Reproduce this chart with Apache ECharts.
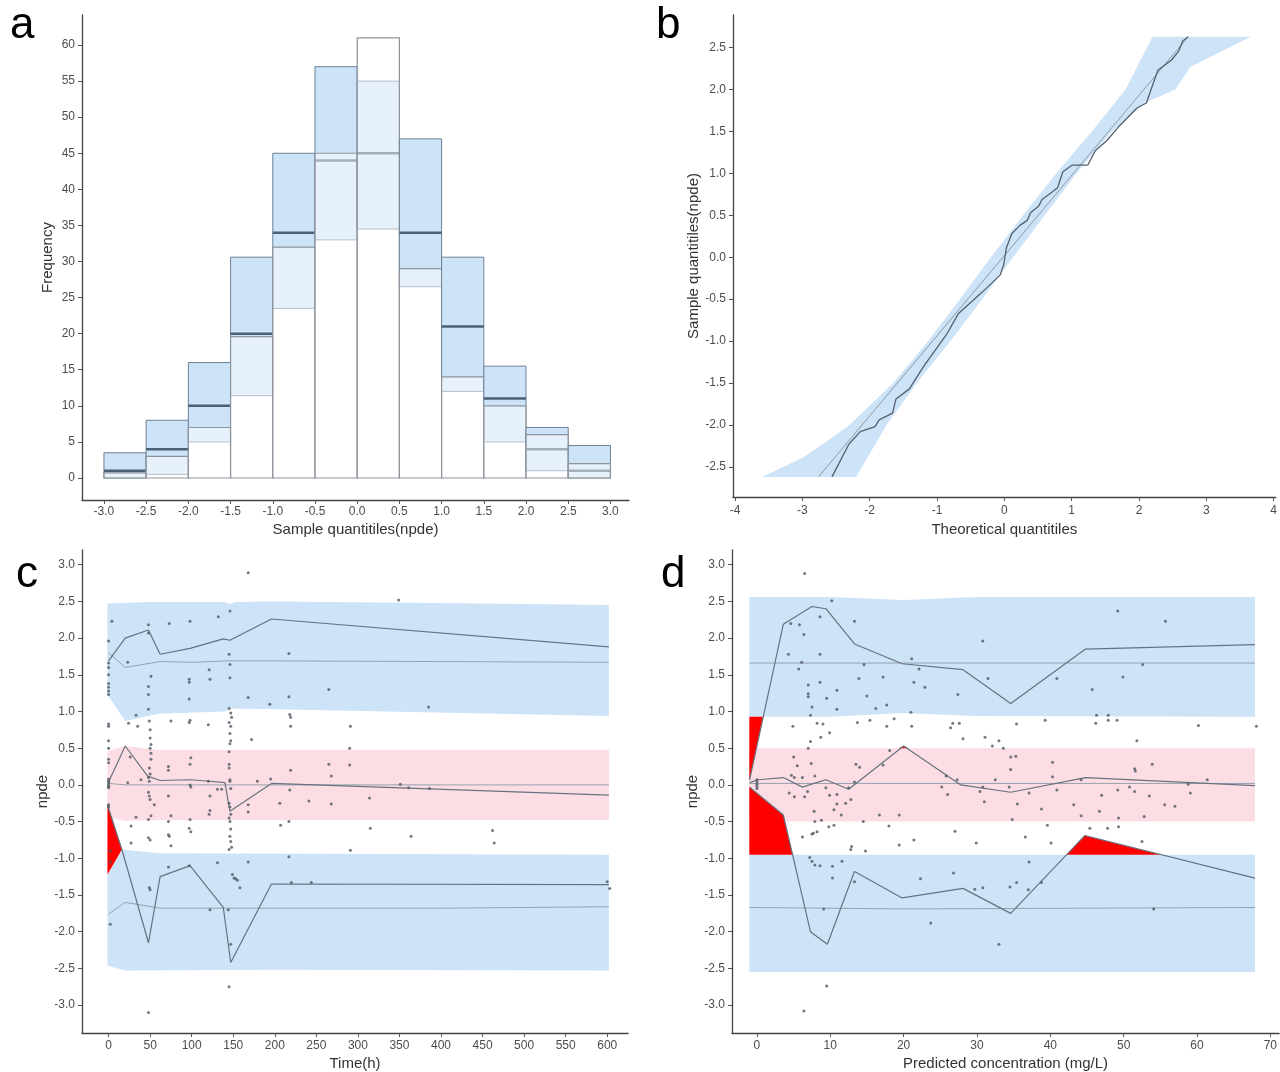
<!DOCTYPE html>
<html>
<head>
<meta charset="utf-8">
<script src="https://cdn.jsdelivr.net/npm/echarts@6/dist/echarts.min.js"></script>
<style>
  html, body { margin: 0; padding: 0; background: #fff; }
  #chart { width: 1280px; height: 1072px; }
</style>
</head>
<body>
<div id="chart"></div>
<script>
// ---- panel a : histogram of npde with prediction intervals ----
var binStart = [-3, -2.5, -2, -1.5, -1, -0.5, 0, 0.5, 1, 1.5, 2, 2.5]
var piLow = [0, 0.5, 5, 11.4, 23.5, 33, 34.5, 26.5, 12, 5, 1, 0]
var piMed = [1, 4, 10, 20, 34, 44, 45, 34, 21, 11, 4, 1]
var piHigh = [3.5, 8, 16, 30.6, 45, 57, 55, 47, 30.6, 15.5, 7, 4.5]
var obsCount = [0.7, 3, 7, 19.6, 32, 45, 61, 29, 14, 10, 6, 2]
var histTicksX = [-3, -2.5, -2, -1.5, -1, -0.5, 0, 0.5, 1, 1.5, 2, 2.5, 3]
var histTicksY = [0, 5, 10, 15, 20, 25, 30, 35, 40, 45, 50, 55, 60]

// ---- panel b : QQ plot ----
var qqBandLeft = [[-3.6, -2.62], [-2.99, -2.39], [-2.54, -2.14], [-2.3, -2.0], [-1.65, -1.5], [-1.13, -1.0],
  [-0.66, -0.5], [-0.2, 0], [0.28, 0.5], [0.77, 1.0], [1.3, 1.5], [1.8, 2.0], [2.2, 2.63]]
var qqBandRight = [[-2.2, -2.62], [-1.75, -2.0], [-1.3, -1.5], [-0.8, -1.0], [-0.33, -0.5], [0.13, 0],
  [0.6, 0.5], [1.07, 1.0], [1.6, 1.5], [2.08, 1.84], [2.54, 2.0], [2.76, 2.27], [3.66, 2.63]]
var qqRefLine = [[-2.76, -2.62], [2.73, 2.63]]
var qqObserved = [[-2.56, -2.62], [-2.31, -2.23], [-2.14, -2.08], [-1.92, -2.02], [-1.86, -1.94], [-1.66, -1.86],
  [-1.61, -1.69], [-1.41, -1.57], [-1.30, -1.43], [-1.18, -1.28], [-0.85, -0.91], [-0.68, -0.67], [-0.39, -0.46],
  [-0.28, -0.38], [-0.06, -0.21], [-0.01, -0.09], [0.03, 0.11], [0.11, 0.28], [0.23, 0.38], [0.34, 0.44],
  [0.39, 0.53], [0.51, 0.61], [0.56, 0.69], [0.73, 0.79], [0.79, 0.83], [0.87, 1.02], [1.01, 1.10], [1.24, 1.10],
  [1.35, 1.27], [1.52, 1.39], [1.69, 1.55], [1.80, 1.64], [1.97, 1.78], [2.11, 1.84], [2.20, 2.05], [2.28, 2.23],
  [2.48, 2.35], [2.59, 2.46], [2.65, 2.58], [2.73, 2.63]]
var qqTicksX = [-4, -3, -2, -1, 0, 1, 2, 3, 4]
var qqTicksY = [-2.5, -2, -1.5, -1, -0.5, 0, 0.5, 1, 1.5, 2, 2.5]

// ---- panel c : npde vs time ----
var cUpperTop = [[-1.4, 2.47], [50, 2.49], [140, 2.49], [146, 2.46], [152, 2.49], [200, 2.5], [450, 2.47], [602, 2.45]]
var cUpperBottom = [[-1.4, 1.23], [20, 0.87], [60, 0.97], [140, 1.0], [146, 1.04], [200, 1.03], [602, 0.94]]
var cMidTop = [[-1.4, 0.46], [20, 0.53], [60, 0.48], [602, 0.48]]
var cMidBottom = [[-1.4, -0.44], [20, -0.49], [60, -0.48], [602, -0.48]]
var cLowerTop = [[-1.4, -1.22], [16, -0.88], [60, -0.93], [602, -0.95]]
var cLowerBottom = [[-1.4, -2.46], [20, -2.53], [200, -2.52], [602, -2.53]]
var cRed = [[-1.4, -0.27], [16, -0.88], [-1.4, -1.22]]
var cMedUpper = [[0, 1.8], [20, 1.6], [62, 1.68], [102, 1.67], [142, 1.69], [183, 1.69], [400, 1.68], [602, 1.67]]
var cMedMid = [[0, 0.02], [20, 0.0], [602, 0.0]]
var cMedLower = [[0, -1.76], [20, -1.6], [62, -1.68], [400, -1.68], [602, -1.66]]
var cObsUpper = [[0, 1.69], [20, 2.0], [48, 2.11], [62, 1.78], [98, 1.86], [138, 1.99], [146, 1.97], [196, 2.26], [602, 1.88]]
var cObsMid = [[0, 0.04], [20, 0.53], [47, 0.12], [62, 0.06], [98, 0.07], [122, 0.05], [140, 0.03], [146, -0.36], [196, 0.02], [602, -0.14]]
var cObsLower = [[-1.4, -0.27], [16, -0.88], [48, -2.15], [62, -1.25], [98, -1.1], [138, -1.67], [147, -2.42], [196, -1.35], [602, -1.36]]
var cPoints = [
  [0, 1.96], [0, 1.66], [0, 1.6], [0, 1.5], [0, 1.38], [0, 1.33], [0, 1.28], [0, 1.23], [0, 0.83], [0, 0.8], [0, 0.6],
  [0, 0.5], [0, 0.35], [0, 0.3], [0, 0.08], [0, 0.05], [0, 0.03], [0, 0], [0, -0.02], [0, -0.04], [0, -0.27], [0, -0.3],
  [2, -0.9], [2, -1.05], [2, -1.9], [4, 2.23],
  [23, 1.67], [24, 0.84], [26, 0.38], [23, 0.03], [27, -0.56], [27, -0.79],
  [33, 0.95], [35, 0.8], [33, -0.44], [39, 0.07],
  [48, 2.18], [48, 2.07], [51, 1.48], [48, 1.34], [48, 1.23], [48, 1.03], [49, 0.87], [50, 0.75], [50, 0.64], [51, 0.55],
  [50, 0.5], [51, 0.43], [51, 0.35], [49, 0.23], [50, 0.15], [48, 0.1], [49, 0.05], [48, -0.1], [49, -0.15], [50, -0.2],
  [55, -0.27], [51, -0.42], [48, -0.47], [48, -0.72], [50, -0.75], [49, -1.4], [50, -1.43], [48, -3.1],
  [73, 2.2], [75, 0.87], [72, 0.25], [72, 0.2], [72, -0.15], [75, -0.42], [72, -0.5], [72, -0.68], [73, -0.7], [75, -0.83], [72, -1.12],
  [98, 2.23], [97, 1.44], [97, 1.4], [97, 1.17], [98, 0.88], [97, 0.85], [99, 0.37], [98, 0.28], [98, 0], [99, -0.03],
  [98, -0.47], [97, -0.59], [99, -0.64], [97, -1.1],
  [121, 1.57], [122, 1.44], [120, 0.82], [120, 0.05], [122, -0.15], [122, -0.35], [121, -0.4], [122, -1.7],
  [132, 2.29], [131, -0.06], [136, -0.06], [131, -1.06],
  [146, 2.37], [145, 1.78], [146, 1.64], [146, 1.46], [145, 1.04], [147, 0.98], [148, 0.92], [145, 0.85], [147, 0.8],
  [146, 0.7], [147, 0.6], [146, 0.56], [145, 0.45], [145, 0.28], [145, 0.23], [146, 0.07], [146, 0.05], [147, -0.05],
  [145, -0.25], [146, -0.3], [147, -0.4], [145, -0.45], [146, -0.5], [147, -0.6], [146, -0.7], [147, -0.77], [148, -0.85],
  [145, -0.88], [149, -1.22], [153, -1.28], [155, -1.3], [158, -1.4], [144, -1.7], [147, -2.17], [145, -2.75], [151, -1.27],
  [168, 2.89], [168, 1.19], [172, 0.62], [168, -0.27], [168, -0.37], [168, -1.05],
  [179, 0.05], [194, 1.1], [195, 0.08], [206, -0.25], [207, -0.55],
  [217, 1.79], [217, 1.2], [218, 0.96], [219, 0.92], [219, 0.8], [219, 0.2], [218, -0.07], [217, -0.5], [217, -0.98], [220, -1.33],
  [241, -0.22], [244, -1.33],
  [265, 1.3], [265, 0.28], [268, 0.12], [268, -0.26],
  [291, 0.8], [290, 0.5], [290, 0.27], [291, -0.89],
  [314, -0.18], [315, -0.59],
  [349, 2.52], [351, 0.01], [361, -0.04], [364, -0.7], [385, 1.06], [386, -0.05],
  [462, -0.62], [464, -0.79],
  [600, -1.32], [603, -1.41]
];
var cTicksX = [0, 50, 100, 150, 200, 250, 300, 350, 400, 450, 500, 550, 600];
var npdeTicks = [-3, -2.5, -2, -1.5, -1, -0.5, 0, 0.5, 1, 1.5, 2, 2.5, 3];

// ---- panel d : npde vs predicted concentration ----
var dUpperTop = [[-1.04, 2.56], [10, 2.56], [20, 2.52], [30, 2.56], [67.9, 2.56]];
var dUpperBottom = [[-1.04, 0.93], [10, 0.93], [20, 0.98], [30, 0.94], [67.9, 0.93]];
var dMidTop = [[-1.04, 0.5], [67.9, 0.5]];
var dMidBottom = [[-1.04, -0.5], [67.9, -0.5]];
var dLowerTop = [[-1.04, -0.95], [67.9, -0.95]];
var dLowerBottom = [[-1.04, -2.55], [67.9, -2.55]];
var dRedUpper = [[-1.04, 0.93], [0.84, 0.93], [-1.0, 0.07], [-1.04, 0.07]];
var dRedLower = [[-1.04, -0.03], [-1.0, -0.03], [3.6, -0.41], [4.86, -0.95], [-1.04, -0.95]];
var dRedRight = [[42.2, -0.95], [44.7, -0.69], [55.1, -0.95]];
var dRedMid = [[19.3, 0.5], [20, 0.53], [20.7, 0.5]];
var dMedUpper = [[-1.0, 1.66], [67.9, 1.66]];
var dMedMid = [[-1.0, 0.02], [67.9, 0.02]];
var dMedLower = [[-1.0, -1.67], [20, -1.69], [67.9, -1.67]];
var dObsUpper = [[-1.0, 0.07], [3.6, 2.19], [7.5, 2.43], [9.4, 2.4], [13.3, 1.92], [19.8, 1.65], [28.1, 1.57],
  [34.6, 1.11], [44.8, 1.85], [67.9, 1.91]];
var dObsMid = [[-1.0, 0.03], [0.15, 0.07], [3.6, 0.1], [6.2, -0.03], [7.8, 0.02], [9.4, 0.07], [12.5, -0.06],
  [20, 0.53], [27.8, 0], [34.6, -0.1], [44.8, 0.1], [67.9, -0.01]];
var dObsLower = [[-1.0, -0.03], [3.6, -0.41], [7.3, -2.0], [9.6, -2.17], [13.3, -1.18], [19.8, -1.54], [28.1, -1.41],
  [34.6, -1.75], [44.7, -0.69], [67.9, -1.27]];
var dPoints = [
  [6.5, 2.88], [10.2, 2.51], [49.2, 2.37], [4.6, 2.2], [5.8, 2.18], [8.6, 2.29], [13.3, 2.23], [55.7, 2.23], [6.4, 2.05], [30.8, 1.96],
  [4.3, 1.78], [5.7, 1.58], [6.1, 1.67], [8.6, 1.78], [21.1, 1.72], [22.1, 1.58], [14.6, 1.64], [52.6, 1.64],
  [13.9, 1.45], [17.2, 1.47], [21.4, 1.4], [22.9, 1.33], [8.6, 1.4], [7.0, 1.36], [31.5, 1.45], [40.9, 1.45], [49.9, 1.47],
  [7, 1.24], [7, 1.2], [9.5, 1.18], [10.9, 1.29], [15, 1.21], [27.4, 1.23], [45.7, 1.3],
  [7.5, 1.06], [10.9, 1.03], [16.2, 1.04], [17.7, 1.09], [21, 0.99],
  [7.3, 0.95], [46.3, 0.95], [47.9, 0.95],
  [4.9, 0.8], [8.2, 0.84], [9, 0.83], [13.7, 0.85], [15.4, 0.88], [18.7, 0.9], [17.7, 0.8], [21.1, 0.8], [26.7, 0.84],
  [27.6, 0.84], [35.4, 0.83], [39.3, 0.88], [46.2, 0.84], [47.9, 0.88], [49.1, 0.88], [60.2, 0.81], [68.1, 0.8],
  [9.9, 0.71], [8.7, 0.65], [28.1, 0.63], [26.4, 0.78], [31.1, 0.65], [33, 0.6], [32.1, 0.53], [51.8, 0.6],
  [7.3, 0.59], [7, 0.5], [18.1, 0.47], [33.6, 0.5],
  [5, 0.38], [7.4, 0.29], [13.5, 0.28], [14, 0.24], [17.2, 0.27], [34.6, 0.38], [35.3, 0.39], [34.6, 0.21], [40.3, 0.31],
  [53.9, 0.28], [51.5, 0.22], [51.6, 0.19], [5.5, 0.26],
  [4.7, 0.13], [5.1, 0.1], [6.2, 0.1], [7.9, 0.12], [13.3, 0.04], [25.8, 0.12], [27.3, 0.07], [32.5, 0.07], [40.3, 0.11],
  [44.2, 0.07], [61.4, 0.07],
  [4.4, -0.11], [5.1, -0.16], [6.5, -0.16], [6.9, -0.09], [9.4, -0.04], [12.5, -0.04], [12.8, -0.2], [12.1, -0.25],
  [10.9, -0.26], [9.9, -0.14], [10.9, -0.13], [25.2, -0.03], [26, -0.13], [30.8, -0.03], [31, -0.23], [30.4, -0.09],
  [34.4, -0.03], [37.1, -0.11], [40.9, -0.07], [50.8, -0.03], [49.2, -0.07], [51.5, -0.09], [47, -0.14], [53.5, -0.15],
  [59.1, -0.11], [58.8, 0.01],
  [10.5, -0.34], [8.8, -0.48], [7.8, -0.36], [7.9, -0.5], [11.5, -0.41], [14.5, -0.5], [16.7, -0.41], [19.4, -0.41],
  [34.8, -0.47], [35.5, -0.26], [38.8, -0.33], [43.2, -0.27], [44.2, -0.42], [46.7, -0.36], [49.3, -0.45], [52.8, -0.43],
  [55.6, -0.27], [57, -0.29],
  [9.8, -0.57], [10.5, -0.55], [18, -0.56], [27, -0.63], [39.6, -0.55], [45.4, -0.59], [47.8, -0.59], [49.3, -0.57],
  [7.7, -0.66], [7.5, -0.67],
  [6.2, -0.71], [21.4, -0.75], [8.2, -0.64], [36.6, -0.71], [29.9, -0.79], [40.1, -0.79], [52.5, -0.77], [19.4, -0.82],
  [12.9, -0.84], [14.8, -0.9], [12.8, -0.88],
  [7.2, -0.99], [7.5, -1.04], [7.9, -1.09], [8.6, -1.1], [11.6, -1.04], [10.3, -1.11], [10.3, -1.27], [37.1, -1.05],
  [26.8, -1.2], [22.3, -1.28], [13.3, -1.32], [29.7, -1.42], [30.8, -1.4], [34.5, -1.39], [35.4, -1.33], [38.8, -1.33], [37, -1.43],
  [9.1, -1.69], [54.1, -1.69], [23.7, -1.88], [33, -2.17], [9.5, -2.74], [6.4, -3.08],
  [0, 0.07], [0, 0.04], [0, 0.01], [0, -0.02], [0, -0.05]
];
var dTicksX = [0, 10, 20, 30, 40, 50, 60, 70];

(function () {
  var myChart = echarts.init(document.getElementById('chart'))
  var FONT = '"Liberation Sans", Arial, sans-serif'
  var BLUE = '#cde3f8'
  var PINK = '#fddde4'
  var OBS = '#66737f'
  var MED = '#94a2b0'

  function fmt1(v) { return v.toFixed(1) }
  function fmt0(v) { return String(v) }

  function axis(o) {
    return {
      type: 'value', gridIndex: o.grid, min: o.min, max: o.max,
      name: o.name, nameLocation: 'middle', nameGap: o.gap, nameRotate: o.rotate || 0,
      nameTextStyle: { fontFamily: FONT, fontSize: 15, color: '#333' },
      axisLine: { show: true, onZero: false, lineStyle: { color: '#444', width: 1.3 } },
      axisTick: { show: true, customValues: o.ticks, length: 4, lineStyle: { color: '#555' } },
      axisLabel: { customValues: o.ticks, formatter: o.fmt, fontFamily: FONT, fontSize: 12, color: '#4d4d4d', margin: o.margin || 7 },
      splitLine: { show: false }
    }
  }

  function polygon(idx, pts, color, z) {
    return {
      type: 'custom', xAxisIndex: idx, yAxisIndex: idx, z: z, silent: true,
      data: [pts[0]],
      renderItem: function (params, api) {
        return {
          type: 'polygon',
          shape: { points: pts.map(function (p) { return api.coord(p) }) },
          style: { fill: color }
        }
      }
    }
  }

  function band(idx, top, bottom, color) {
    return polygon(idx, top.concat(bottom.slice().reverse()), color, 1)
  }

  function line(idx, data, color, width, z) {
    return {
      type: 'line', xAxisIndex: idx, yAxisIndex: idx, data: data, z: z || 3, silent: true,
      showSymbol: false, symbol: 'none',
      lineStyle: { color: color, width: width }
    }
  }

  function dots(idx, data) {
    return {
      type: 'scatter', xAxisIndex: idx, yAxisIndex: idx, data: data, z: 5, silent: true,
      symbolSize: 3, itemStyle: { color: '#4f5763' }
    }
  }

  var histRows = binStart.map(function (b, i) {
    return [b, piLow[i], piMed[i], piHigh[i], obsCount[i]]
  })

  var option = {
    animation: false,
    backgroundColor: '#fff',
    graphic: [
      { type: 'text', left: 10, top: 4, style: { text: 'a', fontSize: 44, fontFamily: FONT, fill: '#000' } },
      { type: 'text', left: 656, top: 4, style: { text: 'b', fontSize: 44, fontFamily: FONT, fill: '#000' } },
      { type: 'text', left: 16, top: 553, style: { text: 'c', fontSize: 44, fontFamily: FONT, fill: '#000' } },
      { type: 'text', left: 661, top: 553, style: { text: 'd', fontSize: 44, fontFamily: FONT, fill: '#000' } }
    ],
    grid: [
      { left: 82, top: 15, right: 651, bottom: 572 },
      { left: 733, top: 15, right: 2, bottom: 575 },
      { left: 82, top: 550, right: 652, bottom: 38 },
      { left: 732, top: 550, right: 0, bottom: 38 }
    ],
    xAxis: [
      axis({ grid: 0, min: -3.26, max: 3.22, ticks: histTicksX, fmt: fmt1, name: 'Sample quantitiles(npde)', gap: 22, margin: 6 }),
      axis({ grid: 1, min: -4.03, max: 4.03, ticks: qqTicksX, fmt: fmt0, name: 'Theoretical quantitiles', gap: 25, margin: 8 }),
      axis({ grid: 2, min: -32, max: 625, ticks: cTicksX, fmt: fmt0, name: 'Time(h)', gap: 23, margin: 7 }),
      axis({ grid: 3, min: -3.4, max: 71.2, ticks: dTicksX, fmt: fmt0, name: 'Predicted concentration (mg/L)', gap: 23, margin: 7 })
    ],
    yAxis: [
      axis({ grid: 0, min: -3.05, max: 64.16, ticks: histTicksY, fmt: fmt0, name: 'Frequency', gap: 27, rotate: 90 }),
      axis({ grid: 1, min: -2.86, max: 2.89, ticks: qqTicksY, fmt: fmt1, name: 'Sample quantitiles(npde)', gap: 32, rotate: 90 }),
      axis({ grid: 2, min: -3.38, max: 3.2, ticks: npdeTicks, fmt: fmt1, name: 'npde', gap: 28, rotate: 90 }),
      axis({ grid: 3, min: -3.38, max: 3.2, ticks: npdeTicks, fmt: fmt1, name: 'npde', gap: 30, rotate: 90 })
    ],
    series: [
      // a
      {
        type: 'custom', xAxisIndex: 0, yAxisIndex: 0, silent: true, z: 2,
        data: histRows,
        renderItem: function (params, api) {
          var x0 = api.value(0), x1 = x0 + 0.5
          var lo = api.coord([x0, api.value(1)])
          var hi = api.coord([x1, api.value(3)])
          var m0 = api.coord([x0, api.value(2)])
          var m1 = api.coord([x1, api.value(2)])
          var base = api.coord([x0, 0])
          var ob = api.coord([x1, api.value(4)])
          return {
            type: 'group',
            children: [
              { type: 'rect', shape: { x: lo[0], y: hi[1], width: hi[0] - lo[0], height: lo[1] - hi[1] },
                style: { fill: BLUE, stroke: '#6f8296', lineWidth: 1 } },
              { type: 'line', shape: { x1: m0[0], y1: m0[1], x2: m1[0], y2: m1[1] },
                style: { stroke: '#4b5f76', lineWidth: 2.5 } },
              { type: 'rect', shape: { x: base[0], y: ob[1], width: ob[0] - base[0], height: base[1] - ob[1] },
                style: { fill: 'rgba(255,255,255,0.5)', stroke: '#8d949c', lineWidth: 1.2 } }
            ]
          }
        }
      },
      // b
      polygon(1, qqBandLeft.concat(qqBandRight.slice().reverse()), BLUE, 1),
      line(1, qqRefLine, '#8e99a4', 1),
      line(1, qqObserved, '#56616d', 1.3),
      // c
      band(2, cUpperTop, cUpperBottom, BLUE),
      band(2, cMidTop, cMidBottom, PINK),
      band(2, cLowerTop, cLowerBottom, BLUE),
      polygon(2, cRed, '#ff0000', 2),
      line(2, cMedUpper, MED, 1),
      line(2, cMedMid, MED, 1),
      line(2, cMedLower, MED, 1),
      line(2, cObsUpper, OBS, 1.2),
      line(2, cObsMid, OBS, 1.2),
      line(2, cObsLower, OBS, 1.2),
      dots(2, cPoints),
      // d
      band(3, dUpperTop, dUpperBottom, BLUE),
      band(3, dMidTop, dMidBottom, PINK),
      band(3, dLowerTop, dLowerBottom, BLUE),
      polygon(3, dRedUpper, '#ff0000', 2),
      polygon(3, dRedLower, '#ff0000', 2),
      polygon(3, dRedRight, '#ff0000', 2),
      polygon(3, dRedMid, '#ff0000', 2),
      line(3, dMedUpper, MED, 1),
      line(3, dMedMid, MED, 1),
      line(3, dMedLower, MED, 1),
      line(3, dObsUpper, OBS, 1.2),
      line(3, dObsMid, OBS, 1.2),
      line(3, dObsLower, OBS, 1.2),
      dots(3, dPoints)
    ]
  }
  myChart.setOption(option)
})()
</script>
</body>
</html>
